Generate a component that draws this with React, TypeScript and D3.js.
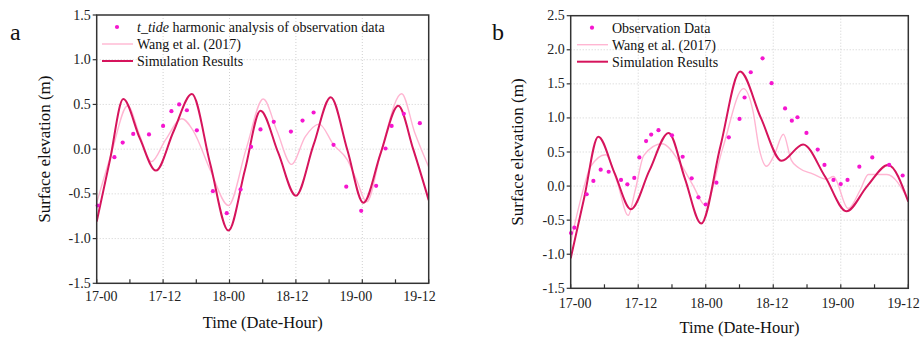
import React from "react";
import * as d3 from "d3";

// ---------- data (hours since 17-00) ----------
const xTickHours = [0, 6, 12, 18, 24, 30, 36, 42, 48, 54, 60];
const xLabelHours = [0, 12, 24, 36, 48, 60];
const xLabels = ["17-00", "17-12", "18-00", "18-12", "19-00", "19-12"];

const aYTicks = [-1.5, -1.0, -0.5, 0.0, 0.5, 1.0, 1.5];
const bYTicks = [-1.5, -1.0, -0.5, 0.0, 0.5, 1.0, 1.5, 2.0, 2.5];

// Panel a
const aSimHours = [0, 2.4, 4.8, 7.8, 10.7, 13.9, 17.2, 20.5, 23.8, 26.8, 29.6, 32.8, 36.0, 39.2, 42.3, 45.3, 48.2, 51.3, 54.5, 57.2, 60];
const aSimValues = [-0.81, -0.12, 0.56, 0.12, -0.24, 0.2, 0.616, -0.16, -0.91, -0.23, 0.43, -0.04, -0.52, 0.05, 0.58, -0.01, -0.6, -0.05, 0.485, 0.0, -0.57];

const aWangHours = [0, 2.6, 5.6, 7.8, 9.9, 12.4, 15.4, 17.5, 20.5, 23.8, 27.0, 30.1, 32.6, 35.2, 37.7, 40.2, 42.8, 45.3, 47.0, 48.8, 51.5, 55.1, 57.5, 60];
const aWangValues = [-0.6, -0.06, 0.485, 0.15, -0.14, 0.1, 0.34, 0.2, -0.23, -0.63, 0.0, 0.56, 0.2, -0.17, 0.14, 0.28, 0.05, -0.12, -0.35, -0.59, 0.0, 0.62, 0.18, -0.2];

const aObsHours = [0.18, 3.2, 4.7, 6.6, 9.45, 12.0, 13.5, 14.9, 16.3, 18.1, 21.0, 23.5, 26.0, 27.9, 29.6, 32.0, 35.1, 37.2, 39.2, 42.8, 45.1, 47.8, 50.5, 52.2, 53.3, 55.5, 58.4];
const aObsValues = [-0.63, -0.09, 0.074, 0.17, 0.165, 0.26, 0.425, 0.5, 0.435, 0.21, -0.47, -0.716, -0.45, 0.026, 0.22, 0.305, 0.197, 0.32, 0.41, 0.048, -0.42, -0.69, -0.41, 0.007, 0.26, 0.395, 0.29];

// Panel b
const bSimHours = [0, 2.4, 4.9, 7.8, 10.7, 14.0, 17.4, 20.3, 23.2, 26.6, 30.1, 33.8, 37.5, 41.3, 45.2, 49.0, 52.7, 56.4, 60];
const bSimValues = [-1.06, -0.17, 0.725, 0.19, -0.34, 0.23, 0.78, 0.11, -0.55, 0.58, 1.68, 1.0, 0.37, 0.61, 0.14, -0.37, 0.0, 0.31, -0.23];

const bWangHours = [0, 2.4, 3.5, 6.2, 8.3, 10.2, 11.5, 13.0, 16.2, 19.5, 21.8, 23.9, 27.0, 30.7, 32.4, 33.5, 34.8, 36.2, 37.8, 39.2, 40.5, 43.0, 45.5, 46.7, 49.3, 51.5, 52.9, 56.2, 60];
const bWangValues = [-0.82, 0.0, 0.28, 0.46, 0.05, -0.43, -0.05, 0.45, 0.62, 0.33, 0.0, -0.28, 0.55, 1.43, 1.1, 0.55, 0.29, 0.46, 0.76, 0.38, 0.27, 0.18, 0.1, 0.14, -0.33, -0.05, 0.17, 0.17, -0.2];

const bObsHours = [0.06, 0.65, 2.84, 4.03, 5.33, 6.75, 8.94, 10.07, 11.3, 12.2, 13.4, 14.3, 15.6, 18.0, 19.9, 21.5, 22.7, 24.0, 25.9, 28.1, 30.0, 30.9, 32.0, 34.1, 35.7, 38.1, 39.3, 40.3, 41.9, 43.9, 45.1, 46.7, 48.0, 49.2, 51.3, 53.6, 56.6, 59.0];
const bObsValues = [-0.69, -0.61, -0.12, 0.075, 0.24, 0.21, 0.09, 0.025, 0.12, 0.42, 0.66, 0.755, 0.82, 0.745, 0.43, 0.114, -0.165, -0.27, 0.05, 0.715, 0.985, 1.3, 1.67, 1.875, 1.51, 1.14, 0.96, 1.01, 0.78, 0.535, 0.31, 0.09, 0.03, 0.09, 0.285, 0.42, 0.31, 0.155];

const SIM_COLOR = "#d6145c";
const WANG_COLOR = "#ffb6d2";
const OBS_COLOR = "#f516cf";
const AXIS_COLOR = "#333";
const FONT = "Liberation Serif";

type PanelProps = {
  letter: string;
  left: number; right: number; top: number; bottom: number;
  labelInsetL: number; labelInsetR: number; labelDy: number;
  yDomain: [number, number];
  yTicks: number[];
  sim: [number[], number[]];
  wang: [number[], number[]];
  obs: [number[], number[]];
  obsLabel: React.ReactNode;
  letterX: number;
  yTitleX: number;
  xTitleY: number;
  legendX: number;
};

function zip(h: number[], v: number[]) {
  return h.map((x, i) => [x, v[i]] as [number, number]);
}

const txt = (size: number): React.CSSProperties => ({ fontFamily: FONT, fontSize: size + "px" });

function Panel(p: PanelProps) {
  const x = d3.scaleLinear().domain([0, 60]).range([p.left, p.right]);
  const xl = d3.scaleLinear().domain([0, 60]).range([p.left + p.labelInsetL, p.right - p.labelInsetR]);
  const y = d3.scaleLinear().domain(p.yDomain).range([p.bottom, p.top]);
  const line = d3
    .line<[number, number]>()
    .x((d) => x(d[0]))
    .y((d) => y(d[1]))
    .curve(d3.curveMonotoneX);
  const sim = zip(p.sim[0], p.sim[1]);
  const wang = zip(p.wang[0], p.wang[1]);
  const obs = zip(p.obs[0], p.obs[1]);
  const clipId = "clip-" + p.letter;
  const lx = p.legendX;
  const ly = p.top + 12;
  return (
    <g>
      <defs>
        <clipPath id={clipId}>
          <rect x={p.left} y={p.top} width={p.right - p.left} height={p.bottom - p.top} />
        </clipPath>
      </defs>
      {p.yTicks.slice(1, -1).map((t) => (
        <line key={"gy" + t} x1={p.left} x2={p.right} y1={y(t)} y2={y(t)} stroke="#d0d0d0" strokeWidth={1} strokeDasharray="1,2" />
      ))}
      {xLabelHours.slice(1, -1).map((t) => (
        <line key={"gx" + t} x1={x(t)} x2={x(t)} y1={p.top} y2={p.bottom} stroke="#d0d0d0" strokeWidth={1} strokeDasharray="1,2" />
      ))}
      <g clipPath={`url(#${clipId})`}>
        <path d={line(wang) || ""} fill="none" stroke={WANG_COLOR} strokeWidth={1.4} />
        <path d={line(sim) || ""} fill="none" stroke={SIM_COLOR} strokeWidth={2} />
      </g>
      {obs.map((d, i) => (
        <circle key={"o" + i} cx={x(d[0])} cy={y(d[1])} r={2.1} fill={OBS_COLOR} />
      ))}
      <rect x={p.left} y={p.top} width={p.right - p.left} height={p.bottom - p.top} fill="none" stroke={AXIS_COLOR} strokeWidth={1.5} />
      {p.yTicks.map((t) => (
        <g key={"yt" + t}>
          <line x1={p.left - 4} x2={p.left} y1={y(t)} y2={y(t)} stroke={AXIS_COLOR} strokeWidth={1.2} />
          <text x={p.left - 6} y={y(t) + 4.5} textAnchor="end" style={txt(14)} fill="#222">
            {t.toFixed(1)}
          </text>
        </g>
      ))}
      {xTickHours.map((t) => (
        <line key={"xt" + t} x1={x(t)} x2={x(t)} y1={p.bottom} y2={p.bottom - 4} stroke={AXIS_COLOR} strokeWidth={1.2} />
      ))}
      {xLabelHours.map((t, i) => (
        <text key={"xl" + t} x={xl(t)} y={p.bottom + p.labelDy} textAnchor="middle" style={txt(14)} fill="#222">
          {xLabels[i]}
        </text>
      ))}
      <text x={(p.left + p.right) / 2} y={p.xTitleY} textAnchor="middle" style={txt(16.5)} fill="#111">
        Time (Date-Hour)
      </text>
      <text
        transform={`translate(${p.yTitleX},${(p.top + p.bottom) / 2}) rotate(-90)`}
        textAnchor="middle"
        style={txt(17)}
        fill="#111"
      >
        Surface elevation (m)
      </text>
      <text x={p.letterX} y={40} style={txt(24)} fill="#111">
        {p.letter}
      </text>
      <circle cx={lx + 15} cy={ly} r={2.1} fill={OBS_COLOR} />
      <text x={lx + 35} y={ly + 5} style={txt(14)} fill="#111">
        {p.obsLabel}
      </text>
      <line x1={lx} x2={lx + 31} y1={ly + 17} y2={ly + 17} stroke={WANG_COLOR} strokeWidth={1.4} />
      <text x={lx + 35} y={ly + 22} style={txt(14)} fill="#111">
        Wang et al. (2017)
      </text>
      <line x1={lx} x2={lx + 31} y1={ly + 34} y2={ly + 34} stroke={SIM_COLOR} strokeWidth={2} />
      <text x={lx + 35} y={ly + 39} style={txt(14)} fill="#111">
        Simulation Results
      </text>
    </g>
  );
}

export default function App() {
  return (
    <svg
      width={921}
      height={342}
      viewBox="0 0 921 342"
      style={{ position: "absolute", left: 0, top: 0, background: "#fff" }}
    >
      <rect x={0} y={0} width={921} height={342} fill="#fff" />
      <Panel
        letter="a"
        left={96.7}
        right={428.7}
        top={15}
        bottom={283.3}
        labelInsetL={4.6}
        labelInsetR={9.2}
        labelDy={18}
        yDomain={[-1.5, 1.5]}
        yTicks={aYTicks}
        sim={[aSimHours, aSimValues]}
        wang={[aWangHours, aWangValues]}
        obs={[aObsHours, aObsValues]}
        obsLabel={
          <>
            <tspan fontStyle="italic">t_tide</tspan> harmonic analysis of observation data
          </>
        }
        letterX={10}
        yTitleX={50}
        xTitleY={328}
        legendX={102}
      />
      <Panel
        letter="b"
        left={570.7}
        right={908.3}
        top={15.7}
        bottom={288.3}
        labelInsetL={4.5}
        labelInsetR={4.8}
        labelDy={19.5}
        yDomain={[-1.5, 2.5]}
        yTicks={bYTicks}
        sim={[bSimHours, bSimValues]}
        wang={[bWangHours, bWangValues]}
        obs={[bObsHours, bObsValues]}
        obsLabel={<>Observation Data</>}
        letterX={492}
        yTitleX={523}
        xTitleY={333}
        legendX={577}
      />
    </svg>
  );
}
